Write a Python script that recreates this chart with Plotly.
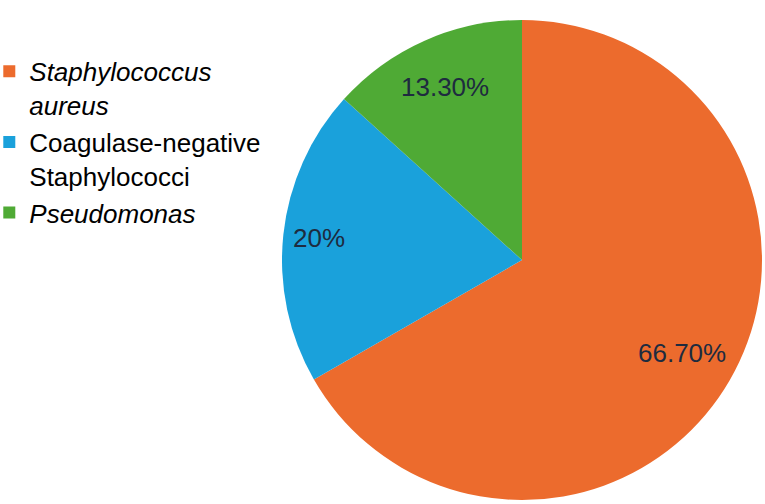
import math
import plotly.graph_objects as go

labels = ["<i>Staphylococcus<br>aureus</i>", "Coagulase-negative<br>Staphylococci", "<i>Pseudomonas</i>"]
values = [66.7, 20.0, 13.3]
value_text = ["66.70%", "20%", "13.30%"]
colors = ["#EC6B2D", "#1AA1DB", "#4FAA35"]
label_radius = [0.77, 0.85, 0.79]

W, H = 765, 504
cx, cy, r = 522, 260, 240
dom_x = [(cx - r) / W, (cx + r) / W]
dom_y = [1 - (cy + r) / H, 1 - (cy - r) / H]

fig = go.Figure(go.Pie(
    labels=labels, values=values, sort=False, direction="clockwise", rotation=0,
    marker=dict(colors=colors, line=dict(width=0)),
    textinfo="none", hoverinfo="label+percent",
    domain=dict(x=dom_x, y=dom_y),
))

# label positions along each slice bisector
total = sum(values)
start = 0.0
annos = []
for v, t, k in zip(values, value_text, label_radius):
    mid = (start + v / 2) / total * 2 * math.pi
    start += v
    px = cx + k * r * math.sin(mid)
    py = cy - k * r * math.cos(mid)
    annos.append(dict(x=px / W, y=1 - py / H, xref="paper", yref="paper", text=t,
                      xanchor="center", yanchor="middle",
                      showarrow=False, font=dict(size=26, color="#1E2B3F",
                                                 family="Liberation Sans, Arial")))

fig.update_layout(
    width=W, height=H,
    margin=dict(l=0, r=0, t=0, b=0, autoexpand=False),
    paper_bgcolor="white", plot_bgcolor="white",
    font=dict(family="Liberation Sans, Arial", color="#000000"),
    showlegend=True,
    legend=dict(x=-0.014, y=0.905, xanchor="left", yanchor="top",
                font=dict(size=26, color="#000000", family="Liberation Sans, Arial"),
                valign="top", bgcolor="rgba(0,0,0,0)", itemclick=False),
    annotations=annos,
)

fig.write_html("out.html")
